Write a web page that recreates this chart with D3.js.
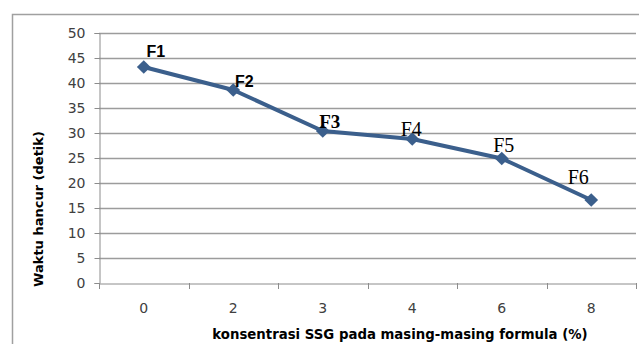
<!DOCTYPE html>
<html><head><meta charset="utf-8">
<script src="https://cdn.jsdelivr.net/npm/d3@7"></script>
<style>body{margin:0;background:#fff;}svg{display:block;}</style>
</head><body>
<svg id="c" width="639" height="344"></svg>
<script>
const categories = ["0","2","3","4","6","8"];
const values = [43.2, 38.6, 30.4, 28.8, 24.9, 16.6];
const pointLabels = ["F1","F2","F3","F4","F5","F6"];
const yTicks = [0,5,10,15,20,25,30,35,40,45,50];

const svg = d3.select("#c");
const L = 99, R = 636, T = 33, B = 283;

// outer chart border
svg.append("rect").attr("x",12.5).attr("y",14.5).attr("width",700).attr("height",400)
  .attr("fill","none").attr("stroke","#a0a0a0").attr("stroke-width",1.5);

const x = d3.scaleBand().domain(categories).range([L,R]);
const y = d3.scaleLinear().domain([0,50]).range([B,T]);

// gridlines
svg.append("g").selectAll("line").data(yTicks.filter(d=>d>0)).join("line")
  .attr("x1",L).attr("x2",R).attr("y1",d=>Math.round(y(d))+0.5).attr("y2",d=>Math.round(y(d))+0.5)
  .attr("stroke","#9c9c9c").attr("stroke-width",1.3);

// y axis
const ya = svg.append("g").attr("transform",`translate(${L+0.5},0)`)
  .call(d3.axisLeft(y).tickValues(yTicks).tickSize(5).tickPadding(9));
ya.select(".domain").attr("stroke","#8c8c8c");
ya.selectAll(".tick line").attr("stroke","#8c8c8c");
ya.selectAll(".tick text").attr("font-family","'DejaVu Sans', sans-serif").attr("font-size",14).attr("fill","#404040");

// x axis
const xa = svg.append("g").attr("transform",`translate(0,${B+0.5})`)
  .call(d3.axisBottom(x).tickSize(0).tickPadding(20));
xa.select(".domain").attr("stroke","#8c8c8c");
xa.selectAll(".tick text").attr("font-family","'DejaVu Sans', sans-serif").attr("font-size",14).attr("fill","#404040");
// boundary ticks
const bounds = categories.map(c=>x(c)).concat([R]);
svg.append("g").selectAll("line").data(bounds).join("line")
  .attr("x1",d=>Math.round(d)+0.5).attr("x2",d=>Math.round(d)+0.5)
  .attr("y1",B).attr("y2",B+6).attr("stroke","#8c8c8c");

// line
const cx = c => x(c) + x.bandwidth()/2;
const data = categories.map((c,i)=>({c, v: values[i], lab: pointLabels[i]}));
svg.append("path").datum(data)
  .attr("d", d3.line().x(d=>cx(d.c)).y(d=>y(d.v)))
  .attr("fill","none").attr("stroke","#3b5f8c").attr("stroke-width",4).attr("stroke-linejoin","round");
svg.append("g").selectAll("path").data(data).join("path")
  .attr("transform",d=>`translate(${cx(d.c)},${y(d.v)})`)
  .attr("d", d3.symbol().type(d3.symbolDiamond2 || d3.symbolDiamond).size(120))
  .attr("fill","#3b5f8c");

// point labels
const labelStyle = [
  {dx:12, dy:-10, font:"'Liberation Sans', sans-serif", w:"bold", s:16},
  {dx:11, dy:-3, font:"'Liberation Sans', sans-serif", w:"bold", s:16},
  {dx:7, dy:-3, font:"'Liberation Serif', serif", w:"bold", s:19},
  {dx:-1, dy:-3, font:"'Liberation Serif', serif", w:"normal", s:20},
  {dx:2, dy:-7, font:"'Liberation Serif', serif", w:"normal", s:20},
  {dx:-13, dy:-16, font:"'Liberation Serif', serif", w:"normal", s:20}
];
svg.append("g").selectAll("text").data(data).join("text")
  .attr("x",(d,i)=>cx(d.c)+labelStyle[i].dx)
  .attr("y",(d,i)=>y(d.v)+labelStyle[i].dy)
  .attr("text-anchor","middle")
  .attr("font-family",(d,i)=>labelStyle[i].font)
  .attr("font-weight",(d,i)=>labelStyle[i].w)
  .attr("font-size",(d,i)=>labelStyle[i].s)
  .attr("fill","#000")
  .text(d=>d.lab);

// axis titles
svg.append("text").attr("transform","translate(43,209) rotate(-90)")
  .attr("text-anchor","middle").attr("font-family","'DejaVu Sans', sans-serif")
  .attr("font-weight","bold").attr("font-size",13).attr("fill","#000")
  .text("Waktu hancur (detik)");
svg.append("text").attr("x",400).attr("y",339)
  .attr("text-anchor","middle").attr("font-family","'DejaVu Sans', sans-serif")
  .attr("font-weight","bold").attr("font-size",13.3).attr("fill","#000")
  .text("konsentrasi SSG pada masing-masing formula (%)");
</script>
</body></html>
